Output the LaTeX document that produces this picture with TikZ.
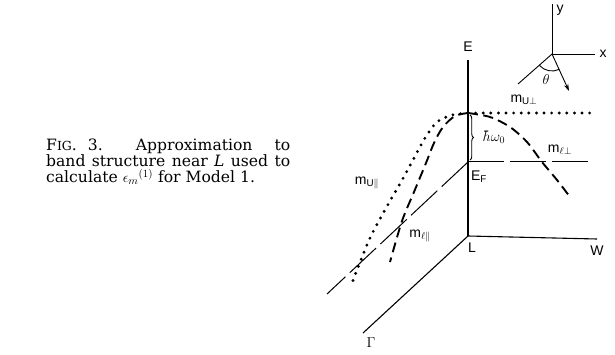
\documentclass[tikz,border=0pt]{standalone}
\usepackage{fontspec}
\setmainfont{DejaVu Serif}
\setsansfont{Liberation Sans}
\usetikzlibrary{decorations.pathreplacing,arrows.meta,calc}
\begin{document}
\begin{tikzpicture}[x=1pt,y=-1pt,
  axis/.style={line width=1.1pt},
  thin/.style={line width=0.9pt},
  dotline/.style={line width=3.2pt,line cap=round,dash pattern=on 0pt off 7.6pt},
  dashline/.style={line width=1.9pt,dash pattern=on 10pt off 5.5pt},
  efline/.style={line width=1pt,dash pattern=on 36pt off 6pt},
  lab/.style={font=\sffamily\fontsize{14}{14}\selectfont,inner sep=0pt},
  caption/.style={inner sep=0pt,anchor=north west,align=left,font=\fontsize{15.6}{16}\selectfont}]
\useasboundingbox (0,0) rectangle (615,355);
% caption
\node[caption] (cap) at (46,139) {\makebox[244pt][s]{F{\fontsize{12.5}{15}\selectfont IG}. 3.\ \ \ Approximation \ to}\\
\makebox[244pt][s]{band structure near \textit{L} used to}\\
calculate $\epsilon_m{}^{(1)}$ for Model 1.};
% main axes
\coordinate (Ltop) at (468,60);
\coordinate (L) at (468,236);
\coordinate (Wend) at (597,239);
\coordinate (Gend) at (363,333);
\coordinate (T) at (468,113);
\coordinate (EF) at (468,162);
\coordinate (EFr) at (593,162);
\coordinate (EFl) at (327,294);
\draw[axis] (Ltop) -- (L);
\draw[axis] (L) -- (Wend);
\draw[axis] (L) -- (Gend);
\draw[efline] (EF) -- (EFr);
\draw[efline] (EF) -- (EFl);
% curves
\coordinate (Ur) at (591,113);
\draw[dotline] (T) -- (Ur);
\draw[dotline] plot[smooth] coordinates {(468,113) (452,115) (437,122) (425,138) (413,160) (401,182) (390,201) (370,238) (352,283)};
\draw[dashline] plot[smooth] coordinates {(468,113) (455,116) (443,127) (434,143) (426,163) (414,192) (402,221) (390,262)};
\draw[dashline] plot[smooth] coordinates {(468,113) (490,117) (510,127) (527,142) (542,162) (557,180) (570,197)};
% brace
\draw[thin,decorate,decoration={brace,amplitude=3.5pt}] (470,115) -- (470,160);
% labels
\node[lab] (Elab) at (468,47) {E};
\node[lab] (EFlab) at (479,177) {E$_{\mathsf{F}}$};
\node[lab] (hw) at (494,137) {$\hbar\omega_0$};
\node[lab] (mUp) at (524,100) {m$_{\mathsf{U}\perp}$};
\node[lab] (mlp) at (560,150) {m$_{\ell\perp}$};
\node[lab] (mUl) at (367,183) {m$_{\mathsf{U}\parallel}$};
\node[lab] (mll) at (420,236) {m$_{\ell\parallel}$};
\node[lab] (Llab) at (472,248) {L};
\node[lab] (Wlab) at (597,251) {W};
\node[lab] (Glab) at (371,343) {$\Gamma$};
% small coordinate frame
\coordinate (O) at (552,54);
\coordinate (Yend) at (552,4);
\coordinate (Xend) at (595,54);
\coordinate (Dl) at (518,84);
\coordinate (Ar) at (569,91);
\draw[thin] (O) -- (Yend);
\draw[thin] (O) -- (Xend);
\draw[thin] (O) -- (Dl);
\draw[thin,-{Stealth[length=7pt,width=4.5pt]}] (O) -- (Ar);
\draw[thin] ($(O)+(138:17)$) arc[start angle=138,end angle=65,radius=17];
\node[lab] (xlab) at (603,54) {x};
\node[lab] (ylab) at (560,10) {y};
\node[lab] (th) at (546,80) {$\theta$};
\end{tikzpicture}
\end{document}
